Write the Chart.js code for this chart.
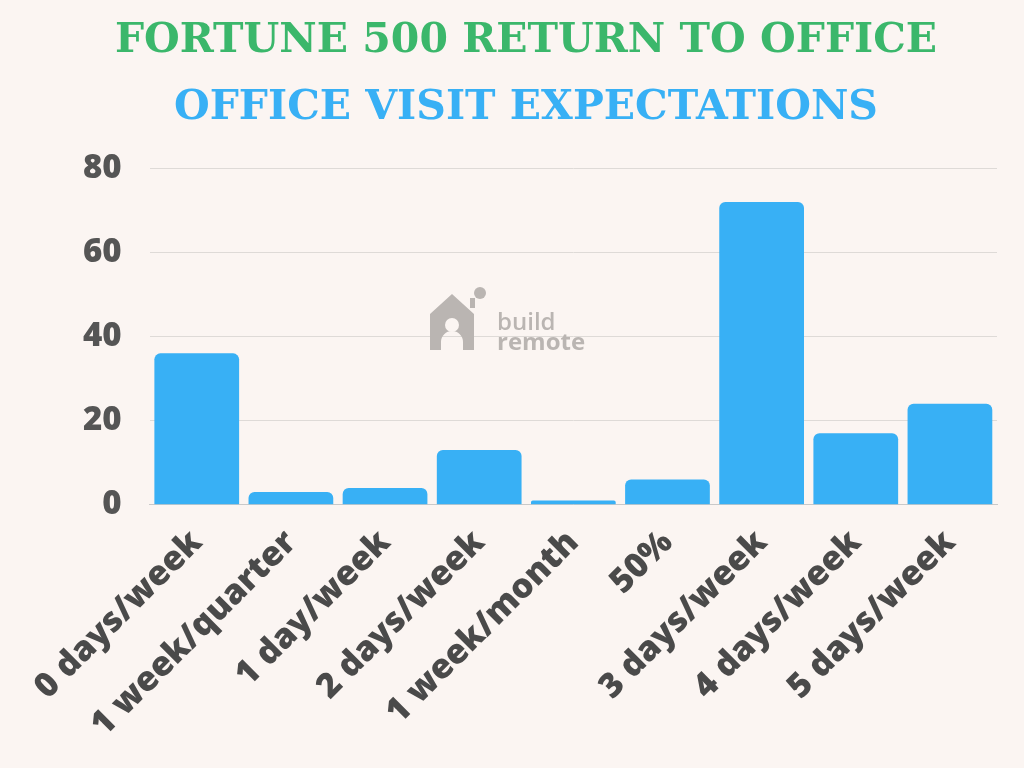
<!DOCTYPE html>
<html>
<head>
<meta charset="utf-8">
<script src="https://cdn.jsdelivr.net/npm/chart.js@4/dist/chart.umd.min.js"></script>
<style>
  html, body { margin: 0; padding: 0; background: #fbf5f2; }
  #wrap { width: 1024px; height: 768px; }
</style>
</head>
<body>
<div id="wrap"><canvas id="officeChart" width="1024" height="768"></canvas></div>
<script>
const categories = ["0 days/week", "1 week/quarter", "1 day/week", "2 days/week", "1 week/month", "50%", "3 days/week", "4 days/week", "5 days/week"];
const companyCounts = [36, 3, 4, 13, 1, 6, 72, 17, 24];
const yTicks = [0, 20, 40, 60, 80];

// faint "build remote" logo behind the bars
const watermark = {
  id: "watermark",
  beforeDatasetsDraw(chart) {
    const c = chart.ctx;
    c.save();
    c.fillStyle = "#bab5b2";
    c.beginPath();
    c.moveTo(430, 350);
    c.lineTo(430, 314);
    c.lineTo(452, 294);
    c.lineTo(474, 314);
    c.lineTo(474, 350);
    c.lineTo(463, 350);
    c.lineTo(463, 342);
    c.arc(452, 342, 11, 0, Math.PI, true);
    c.lineTo(441, 350);
    c.closePath();
    c.fill();
    c.fillStyle = "#fbf5f2";
    c.beginPath();
    c.arc(452, 325, 7, 0, Math.PI * 2);
    c.fill();
    c.fillStyle = "#bab5b2";
    c.beginPath();
    c.arc(480, 293, 6, 0, Math.PI * 2);
    c.fill();
    c.fillRect(470, 298, 5, 10);
    c.font = "600 24px 'Open Sans'";
    c.textBaseline = "alphabetic";
    c.fillText("build", 497, 330);
    c.font = "700 24px 'Open Sans'";
    c.fillText("remote", 497, 350);
    c.restore();
  }
};

const ctx = document.getElementById("officeChart").getContext("2d");
new Chart(ctx, {
  type: "bar",
  data: {
    labels: categories,
    datasets: [{
      label: "Companies",
      data: companyCounts,
      backgroundColor: "#38b0f5",
      borderRadius: 6,
      borderSkipped: "bottom",
      barPercentage: 0.9,
      categoryPercentage: 1.0
    }]
  },
  options: {
    responsive: false,
    animation: false,
    layout: { padding: { top: 10, right: 27, bottom: 13, left: 55 } },
    plugins: {
      legend: { display: false },
      tooltip: { enabled: false },
      title: {
        display: true,
        text: "FORTUNE 500 RETURN TO OFFICE",
        color: "#3bb76b",
        font: { family: "'DejaVu Serif'", size: 41, weight: "bold" },
        padding: { top: 7, bottom: 10 }
      },
      subtitle: {
        display: true,
        text: "OFFICE VISIT EXPECTATIONS",
        color: "#38b0f5",
        font: { family: "'DejaVu Serif'", size: 41, weight: "bold" },
        padding: { top: 8, bottom: 35 }
      }
    },
    scales: {
      x: {
        grid: { display: false },
        border: { color: "#c9c9c9", width: 1 },
        ticks: {
          color: "#4a4a4a",
          maxRotation: 45,
          minRotation: 45,
          padding: 10,
          font: { family: "'Open Sans'", size: 34, weight: "800" }
        }
      },
      y: {
        min: 0,
        max: 80,
        afterBuildTicks(axis) { axis.ticks = yTicks.map(v => ({ value: v })); },
        grid: { color: "#dedad7", drawTicks: false },
        border: { display: false },
        ticks: {
          color: "#555555",
          padding: 28,
          font: { family: "'Open Sans'", size: 33, weight: "800" }
        }
      }
    }
  },
  plugins: [watermark]
});
</script>
</body>
</html>
